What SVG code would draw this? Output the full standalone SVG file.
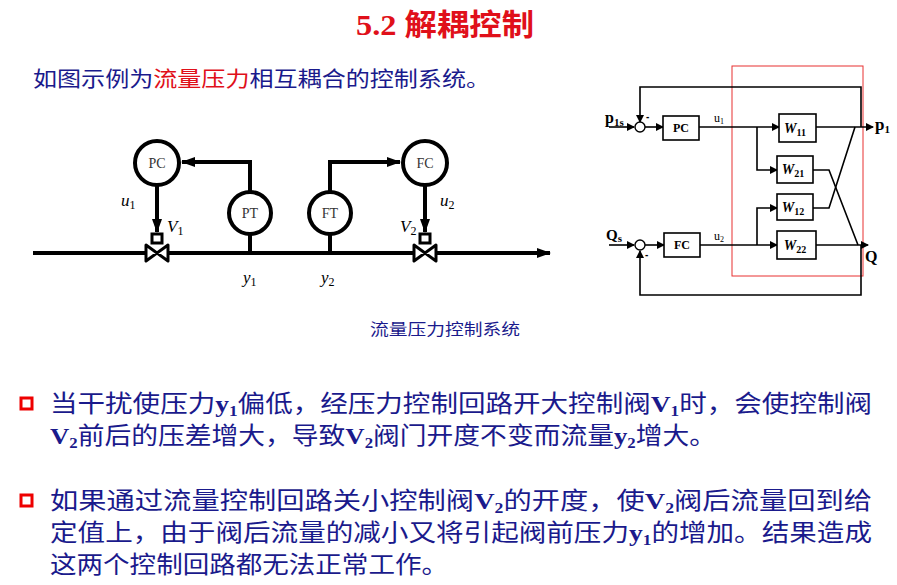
<svg xmlns="http://www.w3.org/2000/svg" width="897" height="585" viewBox="0 0 897 585">
<defs>
<marker id="ah" markerWidth="8" markerHeight="8" refX="7" refY="4" orient="auto" markerUnits="userSpaceOnUse"><path d="M0,0 L8,4 L0,8 z" fill="#000"/></marker>
<marker id="ah2" markerWidth="14" markerHeight="10" refX="13" refY="5" orient="auto" markerUnits="userSpaceOnUse"><path d="M0,0 L14,5 L0,10 z" fill="#000"/></marker>
</defs>
<style>
.cjk{font-family:"Liberation Serif","Noto Sans CJK SC",serif;}
.body{font-family:"Liberation Serif","Noto Sans CJK SC",serif;font-size:24px;fill:#1a1a8c;}
.lat{font-weight:bold;}
.th{fill:none;stroke:#000;stroke-width:4;}
.tn{fill:none;stroke:#000;stroke-width:1.6;}
.circ{fill:#fff;stroke:#000;stroke-width:4;}
.ctext{font-family:"Liberation Serif",serif;font-size:14px;fill:#333;text-anchor:middle;}
.it{font-family:"Liberation Serif",serif;font-style:italic;font-size:17px;}
.box{fill:#fff;stroke:#000;stroke-width:1.6;}
.bt{font-family:"Liberation Serif",serif;font-weight:bold;font-size:12px;text-anchor:middle;}
.wt{font-family:"Liberation Serif",serif;font-style:italic;font-weight:bold;font-size:14px;text-anchor:middle;}
</style>
<rect width="897" height="585" fill="#fff"/>
<text x="445" y="35" class="cjk" font-size="30" font-weight="bold" fill="#e0101a" text-anchor="middle" textLength="178" lengthAdjust="spacingAndGlyphs">5.2 解耦控制</text>
<text x="33" y="86" class="cjk" font-size="21" fill="#1a1a8c" textLength="457" lengthAdjust="spacingAndGlyphs">如图示例为<tspan fill="#e0101a">流量压力</tspan>相互耦合的控制系统。</text>

<g id="pipe-diagram">
<g id="connectors">
<line x1="33" y1="253" x2="550" y2="253" class="th" marker-end="url(#ah2)"/>
<line x1="157" y1="185" x2="157" y2="232" class="th" marker-end="url(#ah2)"/>
<line x1="425" y1="185" x2="425" y2="232" class="th" marker-end="url(#ah2)"/>
<polyline points="250,253 250,162 182,162" class="th" marker-end="url(#ah2)"/>
<polyline points="330,253 330,162 400,162" class="th" marker-end="url(#ah2)"/>
</g>
<g id="PC"><circle cx="157" cy="163" r="22" class="circ"/><text x="157" y="168" class="ctext">PC</text></g>
<g id="FC"><circle cx="425" cy="163" r="22" class="circ"/><text x="425" y="168" class="ctext">FC</text></g>
<g id="PT"><circle cx="250" cy="213" r="21" class="circ"/><text x="250" y="218" class="ctext">PT</text></g>
<g id="FT"><circle cx="330" cy="213" r="21" class="circ"/><text x="330" y="218" class="ctext">FT</text></g>
<g id="V1"><rect x="152" y="234" width="10" height="9" fill="#fff" stroke="#000" stroke-width="3"/><path d="M146,245 L168,261 L168,245 L146,261 z" fill="#fff" stroke="#000" stroke-width="3" stroke-linejoin="round"/></g>
<g id="V2"><rect x="420" y="234" width="10" height="9" fill="#fff" stroke="#000" stroke-width="3"/><path d="M414,245 L436,261 L436,245 L414,261 z" fill="#fff" stroke="#000" stroke-width="3" stroke-linejoin="round"/></g>
<text x="121" y="206" class="it">u<tspan font-size="12" font-style="normal" dy="3">1</tspan></text>
<text x="167" y="232" class="it">V<tspan font-size="12" font-style="normal" dy="3">1</tspan></text>
<text x="440" y="206" class="it">u<tspan font-size="12" font-style="normal" dy="3">2</tspan></text>
<text x="400" y="232" class="it">V<tspan font-size="12" font-style="normal" dy="3">2</tspan></text>
<text x="243" y="283" class="it">y<tspan font-size="12" font-style="normal" dy="3">1</tspan></text>
<text x="321" y="283" class="it">y<tspan font-size="12" font-style="normal" dy="3">2</tspan></text>
</g>
<text x="445" y="335" class="cjk" font-size="16" fill="#1a1a8c" text-anchor="middle" textLength="150" lengthAdjust="spacingAndGlyphs">流量压力控制系统</text>

<g id="block-diagram">
<rect x="732" y="66" width="131" height="210" fill="none" stroke="#e83030" stroke-width="1"/>
<g id="bd-connectors">
<line x1="609" y1="127" x2="634" y2="127" class="tn" marker-end="url(#ah)"/>
<line x1="645" y1="127" x2="663" y2="127" class="tn" marker-end="url(#ah)"/>
<line x1="699" y1="127" x2="779" y2="127" class="tn" marker-end="url(#ah)"/>
<polyline points="757,127 757,170 777,170" class="tn" marker-end="url(#ah)"/>
<line x1="816" y1="127" x2="873" y2="127" class="tn" marker-end="url(#ah)"/>
<polyline points="861,127 861,87 640,87 640,122" class="tn" marker-end="url(#ah)"/>
<line x1="609" y1="245" x2="634" y2="245" class="tn" marker-end="url(#ah)"/>
<line x1="645" y1="245" x2="664" y2="245" class="tn" marker-end="url(#ah)"/>
<line x1="700" y1="245" x2="777" y2="245" class="tn" marker-end="url(#ah)"/>
<polyline points="757,245 757,208 777,208" class="tn" marker-end="url(#ah)"/>
<line x1="816" y1="245" x2="868" y2="245" class="tn" marker-end="url(#ah)"/>
<polyline points="861,245 861,295 640,295 640,251" class="tn" marker-end="url(#ah)"/>
<polyline points="813,170 829,170 858,245" class="tn"/>
<polyline points="813,208 829,208 855,127" class="tn"/>
</g>
<g id="sum1"><circle cx="640" cy="127" r="5" fill="#fff" stroke="#000" stroke-width="1.4"/></g>
<g id="sum2"><circle cx="640" cy="245" r="5" fill="#fff" stroke="#000" stroke-width="1.4"/></g>
<text x="646" y="120" font-family="Liberation Sans,sans-serif" font-size="10" font-weight="bold">-</text>
<text x="645" y="258" font-family="Liberation Sans,sans-serif" font-size="10" font-weight="bold">-</text>
<g id="PCbox"><rect x="663" y="116" width="36" height="24" class="box"/><text x="681" y="132" class="bt">PC</text></g>
<g id="FCbox"><rect x="664" y="233" width="36" height="24" class="box"/><text x="682" y="249" class="bt">FC</text></g>
<g id="W11"><rect x="779" y="114" width="37" height="28" class="box"/><text x="795" y="133" class="wt">W<tspan font-size="10" font-style="normal" dy="3">11</tspan></text></g>
<g id="W21"><rect x="777" y="156" width="36" height="27" class="box"/><text x="793" y="174" class="wt">W<tspan font-size="10" font-style="normal" dy="3">21</tspan></text></g>
<g id="W12"><rect x="777" y="194" width="36" height="26" class="box"/><text x="793" y="212" class="wt">W<tspan font-size="10" font-style="normal" dy="3">12</tspan></text></g>
<g id="W22"><rect x="777" y="231" width="39" height="28" class="box"/><text x="795" y="250" class="wt">W<tspan font-size="10" font-style="normal" dy="3">22</tspan></text></g>
<text x="605" y="123" font-family="Liberation Serif,serif" font-weight="bold" font-size="16">p<tspan font-size="11" dy="3">1s</tspan></text>
<text x="606" y="240" font-family="Liberation Serif,serif" font-weight="bold" font-size="15">Q<tspan font-size="11" dy="2">s</tspan></text>
<text x="714" y="122" font-family="Liberation Serif,serif" font-size="12">u<tspan font-size="8" dy="2">1</tspan></text>
<text x="714" y="240" font-family="Liberation Serif,serif" font-size="12">u<tspan font-size="8" dy="2">2</tspan></text>
<text x="875" y="130" font-family="Liberation Serif,serif" font-weight="bold" font-size="17">p<tspan font-size="11" dy="3">1</tspan></text>
<text x="865" y="262" font-family="Liberation Serif,serif" font-weight="bold" font-size="16">Q</text>
</g>

<g id="bullets">
<rect x="21" y="398" width="11" height="11" fill="none" stroke="#e00" stroke-width="3"/>
<rect x="21" y="495" width="11" height="11" fill="none" stroke="#e00" stroke-width="3"/>
<text x="50" y="412" class="body" textLength="822" lengthAdjust="spacingAndGlyphs">当干扰使压力<tspan class="lat">y</tspan><tspan class="lat" font-size="15" dy="4">1</tspan><tspan dy="-4">偏低，经压力控制回路开大控制阀</tspan><tspan class="lat">V</tspan><tspan class="lat" font-size="15" dy="4">1</tspan><tspan dy="-4">时，会使控制阀</tspan></text>
<text x="50" y="444" class="body" textLength="666" lengthAdjust="spacingAndGlyphs"><tspan class="lat">V</tspan><tspan class="lat" font-size="15" dy="4">2</tspan><tspan dy="-4">前后的压差增大，导致</tspan><tspan class="lat">V</tspan><tspan class="lat" font-size="15" dy="4">2</tspan><tspan dy="-4">阀门开度不变而流量</tspan><tspan class="lat">y</tspan><tspan class="lat" font-size="15" dy="4">2</tspan><tspan dy="-4">增大。</tspan></text>
<text x="50" y="509" class="body" textLength="822" lengthAdjust="spacingAndGlyphs">如果通过流量控制回路关小控制阀<tspan class="lat">V</tspan><tspan class="lat" font-size="15" dy="4">2</tspan><tspan dy="-4">的开度，使</tspan><tspan class="lat">V</tspan><tspan class="lat" font-size="15" dy="4">2</tspan><tspan dy="-4">阀后流量回到给</tspan></text>
<text x="50" y="541" class="body" textLength="822" lengthAdjust="spacingAndGlyphs">定值上，由于阀后流量的减小又将引起阀前压力<tspan class="lat">y</tspan><tspan class="lat" font-size="15" dy="4">1</tspan><tspan dy="-4">的增加。结果造成</tspan></text>
<text x="50" y="573" class="body" textLength="398" lengthAdjust="spacingAndGlyphs">这两个控制回路都无法正常工作。</text>
</g>
</svg>
